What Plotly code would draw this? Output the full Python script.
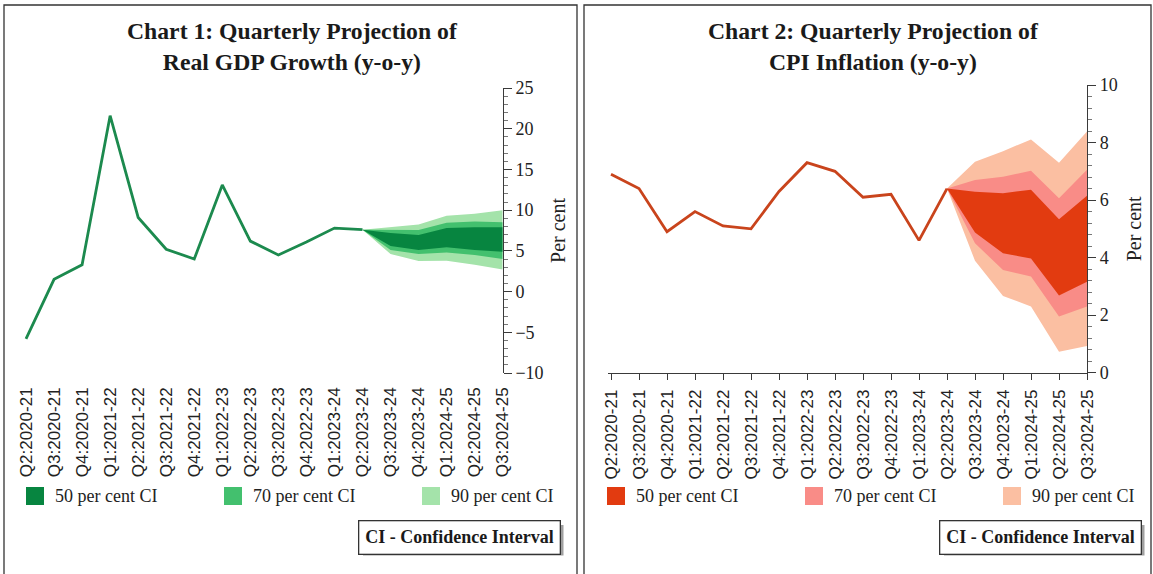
import plotly.graph_objects as go

W, H = 1153, 574

quarters = ["Q2:2020-21", "Q3:2020-21", "Q4:2020-21", "Q1:2021-22", "Q2:2021-22",
            "Q3:2021-22", "Q4:2021-22", "Q1:2022-23", "Q2:2022-23", "Q3:2022-23",
            "Q4:2022-23", "Q1:2023-24", "Q2:2023-24", "Q3:2023-24", "Q4:2023-24",
            "Q1:2024-25", "Q2:2024-25", "Q3:2024-25"]
actual_q = quarters[:13]
proj_q = quarters[12:]

gdp_actual = [-5.8, 1.5, 3.3, 21.6, 9.1, 5.2, 4.0, 13.1, 6.2, 4.5, 6.1, 7.8, 7.6]
gdp_90_upper = [7.6, 7.95, 8.25, 9.3, 9.55, 10.0]
gdp_70_upper = [7.6, 7.55, 7.55, 8.45, 8.6, 8.5]
gdp_50_upper = [7.6, 7.2, 6.95, 7.8, 7.9, 7.9]
gdp_50_lower = [7.6, 5.6, 5.1, 5.45, 5.1, 4.9]
gdp_70_lower = [7.6, 5.1, 4.6, 4.8, 4.5, 4.0]
gdp_90_lower = [7.6, 4.6, 3.75, 3.8, 3.3, 2.7]

cpi_actual = [6.9, 6.4, 4.9, 5.6, 5.1, 5.0, 6.3, 7.3, 7.0, 6.1, 6.2, 4.6, 6.4]
cpi_90_upper = [6.4, 7.33, 7.7, 8.11, 7.3, 8.38]
cpi_70_upper = [6.4, 6.7, 6.81, 7.02, 6.06, 7.05]
cpi_50_upper = [6.4, 6.29, 6.24, 6.36, 5.33, 6.15]
cpi_50_lower = [6.4, 4.87, 4.15, 3.97, 2.68, 3.16]
cpi_70_lower = [6.4, 4.5, 3.57, 3.34, 1.95, 2.3]
cpi_90_lower = [6.4, 3.89, 2.67, 2.3, 0.73, 0.93]

band_labels = ["50 per cent CI", "70 per cent CI", "90 per cent CI"]
band_keys = ["50", "70", "90"]
gdp_colors = {"line": "#1c8a4e", "50": "#078540", "70": "#43c06e", "90": "#a4e3aa"}
cpi_colors = {"line": "#c9441c", "50": "#e23b10", "70": "#f98c87", "90": "#fbbfa2"}

SERIF = "Liberation Serif, Times New Roman, serif"
SANS = "Liberation Sans Narrow, Liberation Sans, Arial, sans-serif"


def px(x):
    return x / W


def py(y):
    return 1 - y / H


fig = go.Figure()


def add_panel(xa, ya, actual, bands, colors):
    for upper, lower, key in bands:
        fig.add_trace(go.Scatter(
            x=proj_q + proj_q[::-1], y=upper + lower[::-1],
            fill="toself", fillcolor=colors[key], mode="lines",
            line=dict(width=0, color=colors[key]), hoverinfo="skip",
            name=band_labels[band_keys.index(key)],
            showlegend=False, xaxis=xa, yaxis=ya))
    fig.add_trace(go.Scatter(
        x=actual_q, y=actual, mode="lines",
        line=dict(color=colors["line"], width=2.8),
        showlegend=False, xaxis=xa, yaxis=ya))


add_panel("x", "y", gdp_actual,
          [(gdp_90_upper, gdp_90_lower, "90"),
           (gdp_70_upper, gdp_70_lower, "70"),
           (gdp_50_upper, gdp_50_lower, "50")],
          gdp_colors)
add_panel("x2", "y2", cpi_actual,
          [(cpi_90_upper, cpi_90_lower, "90"),
           (cpi_70_upper, cpi_70_lower, "70"),
           (cpi_50_upper, cpi_50_lower, "50")],
          cpi_colors)

AX = "#3a3a3a"
tick_font = dict(family=SERIF, size=18, color="#222")
label_font = dict(family=SANS, size=17, color="#222")

# Panel geometry (pixels)
L_x0, L_x1 = 23.2, 502.7
L_y0, L_y1 = 88, 373
R_x0, R_x1 = 608.2, 1087
R_y0, R_y1 = 85, 372.7

gdp_range = [-10, 25]
cpi_range = [0, 10]
xr = [-0.1, len(quarters) - 1]

zero_pos = py(L_y1) + (0 - gdp_range[0]) / (gdp_range[1] - gdp_range[0]) * (py(L_y0) - py(L_y1))

fig.update_layout(
    width=W, height=H, margin=dict(l=0, r=0, t=0, b=0, autoexpand=False),
    paper_bgcolor="white", plot_bgcolor="white", showlegend=False,
    font=dict(family=SERIF, color="#222"),
    xaxis=dict(domain=[px(L_x0), px(L_x1)], anchor="y", type="category",
               categoryorder="array", categoryarray=quarters, range=xr,
               tickmode="array", tickvals=quarters, ticktext=quarters,
               showline=False, ticks="", tickangle=-90, tickfont=label_font,
               ticklabelstandoff=10, showgrid=False, zeroline=False),
    xaxis3=dict(domain=[px(L_x0), px(L_x1)], overlaying="x", anchor="free",
                position=zero_pos, type="linear", range=xr,
                tickvals=list(range(len(quarters))), showticklabels=False,
                showline=True, linecolor=AX, linewidth=1.3, ticks="outside",
                ticklen=6, tickcolor=AX, tickwidth=1.3, showgrid=False, zeroline=False),
    yaxis=dict(domain=[py(L_y1), py(L_y0)], anchor="x", side="right",
               range=gdp_range, dtick=5, showline=True, linecolor=AX, linewidth=1.3,
               ticks="outside", ticklen=8, tickcolor=AX, tickwidth=1.3,
               minor=dict(ticks="outside", ticklen=4, dtick=1, tickcolor="#777", tickwidth=1),
               tickfont=tick_font, showgrid=False, zeroline=False,
               title=dict(text="Per cent", font=dict(family=SERIF, size=20, color="#222"),
                          standoff=8)),
    xaxis2=dict(domain=[px(R_x0), px(R_x1)], anchor="y2", type="category",
                categoryorder="array", categoryarray=quarters, range=xr,
                tickmode="array", tickvals=quarters, ticktext=quarters,
                showline=True, linecolor=AX, linewidth=1.3, ticks="outside",
                ticklen=6, tickcolor=AX, tickwidth=1.3, tickangle=-90,
                tickfont=label_font, ticklabelstandoff=3, showgrid=False, zeroline=False),
    yaxis2=dict(domain=[py(R_y1), py(R_y0)], anchor="x2", side="right",
                range=cpi_range, dtick=2, showline=True, linecolor=AX, linewidth=1.3,
                ticks="outside", ticklen=8, tickcolor=AX, tickwidth=1.3,
                minor=dict(ticks="outside", ticklen=4, dtick=0.4, tickcolor="#777", tickwidth=1),
                tickfont=tick_font, showgrid=False, zeroline=False,
                title=dict(text="Per cent", font=dict(family=SERIF, size=20, color="#222"),
                           standoff=10)),
)

# Panel frames
for x0, x1 in [(4, 577), (584, 1151)]:
    fig.add_shape(type="rect", xref="paper", yref="paper",
                  x0=px(x0), x1=px(x1), y0=py(590), y1=py(5),
                  line=dict(color="#333", width=1.3), fillcolor="rgba(0,0,0,0)", layer="below")

# Legends (swatches + labels)
LEG_Y = 496
for base, colors in [(26, gdp_colors), (607, cpi_colors)]:
    for i, key in enumerate(band_keys):
        sx = base + i * 198
        fig.add_shape(type="rect", xref="paper", yref="paper",
                      x0=px(sx), x1=px(sx + 18), y0=py(LEG_Y + 9), y1=py(LEG_Y - 9),
                      line=dict(width=0), fillcolor=colors[key])
        fig.add_annotation(x=px(sx + 27), y=py(LEG_Y), xref="paper", yref="paper",
                           text=band_labels[i], showarrow=False,
                           xanchor="left", yanchor="middle",
                           font=dict(family=SERIF, size=18, color="#222"))

# Titles
for cx, txt in [(292, "Chart 1: Quarterly Projection of<br>Real GDP Growth (y-o-y)"),
                (873, "Chart 2: Quarterly Projection of<br>CPI Inflation (y-o-y)")]:
    fig.add_annotation(x=px(cx), y=py(47), xref="paper", yref="paper",
                       text="<b>" + txt + "</b>", showarrow=False,
                       xanchor="center", yanchor="middle",
                       font=dict(family=SERIF, size=23.7, color="#1a1a1a"))

# CI note boxes (with a faint drop shadow on the right/bottom)
for rx in [561, 1142]:
    fig.add_shape(type="rect", xref="paper", yref="paper",
                  x0=px(rx - 198), x1=px(rx + 2.5), y0=py(555.5), y1=py(525),
                  line=dict(width=0), fillcolor="#a0a0a0")
    fig.add_annotation(x=px(rx), y=py(537.5), xref="paper", yref="paper",
                       text="<b>CI - Confidence Interval</b>", showarrow=False,
                       xanchor="right", yanchor="middle",
                       font=dict(family=SERIF, size=18, color="#1a1a1a"),
                       bordercolor="#333", borderwidth=1.3, borderpad=6, bgcolor="white")

fig.write_html("out.html", config={"displayModeBar": False},
               post_script="document.body.style.margin='0';document.body.style.overflow='hidden';")
